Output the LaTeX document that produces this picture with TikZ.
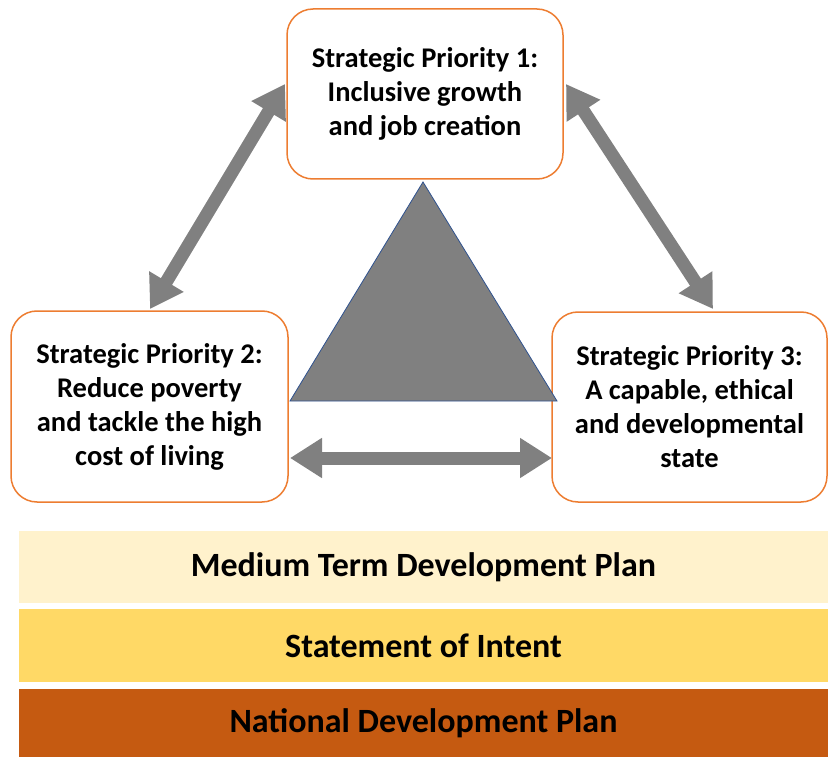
\documentclass[tikz,border=0pt]{standalone}
\usepackage{fontspec}
\setmainfont{Carlito}
\usetikzlibrary{arrows.meta}
\definecolor{boxline}{HTML}{ED7D31}
\definecolor{arrowgray}{HTML}{808080}
\definecolor{triline}{HTML}{2F528F}
\definecolor{bandA}{HTML}{FFF2CC}
\definecolor{bandB}{HTML}{FFD966}
\definecolor{bandC}{HTML}{C55A11}
\begin{document}
\begin{tikzpicture}[x=1pt,y=-1pt,
  prio/.style={draw=boxline, line width=1.5pt, fill=white, rounded corners=26pt,
    align=center, font=\fontsize{28.5}{34}\selectfont\bfseries, inner sep=0pt},
  band/.style={minimum width=809pt, inner sep=0pt,
    font=\fontsize{34}{38}\selectfont\bfseries},
  link/.style={draw=arrowgray, line width=13pt,
    {Triangle[length=32pt,width=38pt]}-{Triangle[length=32pt,width=38pt]}},
  tri/.style={fill=arrowgray, draw=triline, line width=0.8pt, line join=miter}]
\useasboundingbox (0,0) rectangle (828,757);

% the three priorities
\node[prio, minimum width=276pt, minimum height=170pt] (p1) at (425,94)
  {Strategic Priority 1:\\Inclusive growth\\and job creation};
\node[prio, minimum width=277pt, minimum height=191pt] (p2) at (149.5,406.5)
  {Strategic Priority 2:\\Reduce poverty\\and tackle the high\\cost of living};
\node[prio, minimum width=275pt, minimum height=190pt] (p3) at (689.5,407)
  {Strategic Priority 3:\\A capable, ethical\\and developmental\\state};

% central triangle
\coordinate (ta) at (423,182);
\coordinate (tb) at (290,401);
\coordinate (tc) at (557,401);
\draw[tri] (ta) -- (tb) -- (tc) -- cycle;

% two-way links between priorities
\coordinate (l1) at (285,84);
\coordinate (l2) at (150,309);
\coordinate (r1) at (566,84);
\coordinate (r2) at (713,309);
\coordinate (h1) at (290,458);
\coordinate (h2) at (552,458);
\draw[link] (l2) -- (l1);
\draw[link] (r1) -- (r2);
\draw[link] (h1) -- (h2);

% foundation bands
\node[band, fill=bandA, minimum height=72pt] (b1) at (423.5,567)
  {Medium Term Development Plan};
\node[band, fill=bandB, minimum height=73pt] (b2) at (423.5,645.5)
  {Statement of Intent};
\node[band, fill=bandC, minimum height=68pt] (b3) at (423.5,723)
  {National Development Plan};
\end{tikzpicture}
\end{document}
